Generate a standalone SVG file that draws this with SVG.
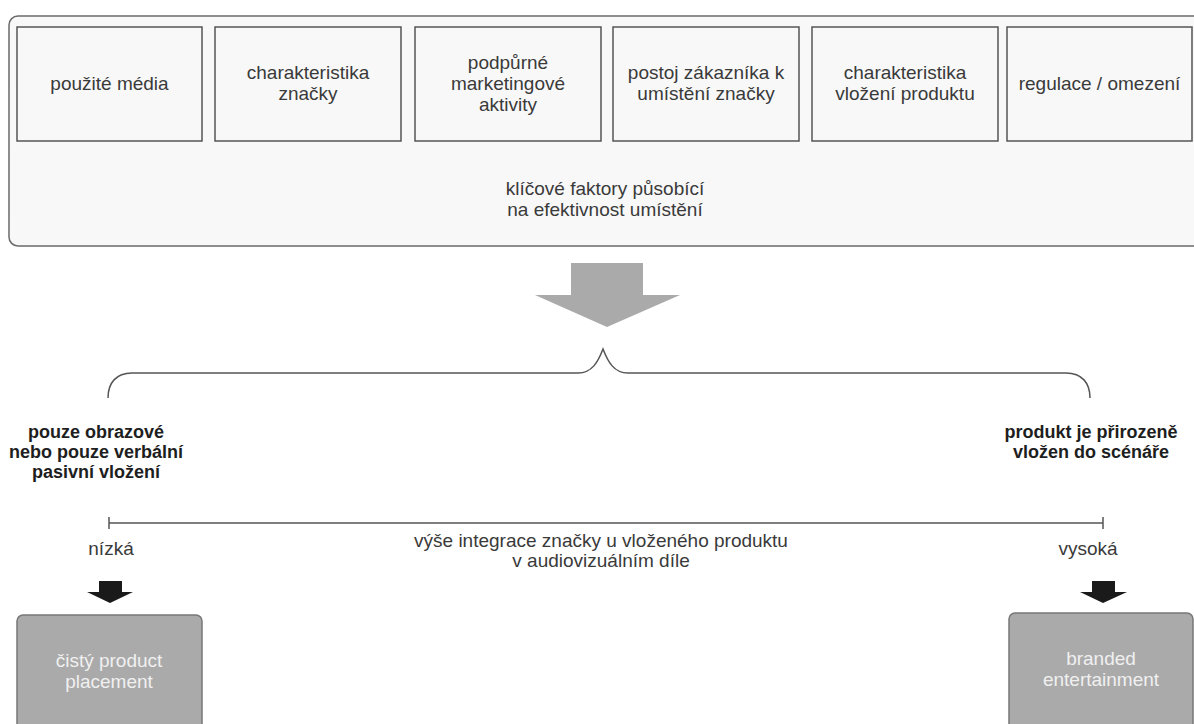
<svg xmlns="http://www.w3.org/2000/svg" width="1194" height="724" viewBox="0 0 1194 724">
  <style>
    .panel { fill: #f8f8f8; stroke: #6a6a6a; stroke-width: 1.5; }
    .factor { fill: #f8f8f8; stroke: #555555; stroke-width: 1.5; }
    .t { font-family: "Liberation Sans", Arial, sans-serif; font-size: 19px; fill: #3a3a3a; text-anchor: middle; }
    .b { font-family: "Liberation Sans", Arial, sans-serif; font-size: 18px; font-weight: bold; fill: #1e1e1e; text-anchor: middle; }
    .outcome { fill: #aaaaaa; stroke: #777777; stroke-width: 1.5; }
    .w { font-family: "Liberation Sans", Arial, sans-serif; font-size: 19px; fill: #f0f0f0; text-anchor: middle; }
    .line { fill: none; stroke: #555555; stroke-width: 1.5; }
  </style>
  <rect width="1194" height="724" fill="#ffffff"/>

  <!-- key factors panel -->
  <g id="factors-panel">
    <rect class="panel" x="9" y="16" width="1200" height="230" rx="9"/>
    <text class="t" x="605" y="195">klíčové faktory působící</text>
    <text class="t" x="605" y="216">na efektivnost umístění</text>
  </g>

  <g id="f-media">
    <rect class="factor" x="17" y="27" width="185" height="114"/>
    <text class="t" x="109.5" y="90">použité média</text>
  </g>
  <g id="f-brand">
    <rect class="factor" x="215" y="27" width="186" height="114"/>
    <text class="t" x="308" y="79">charakteristika</text>
    <text class="t" x="308" y="100">značky</text>
  </g>
  <g id="f-marketing">
    <rect class="factor" x="415" y="27" width="186" height="114"/>
    <text class="t" x="508" y="69">podpůrné</text>
    <text class="t" x="508" y="90">marketingové</text>
    <text class="t" x="508" y="111">aktivity</text>
  </g>
  <g id="f-attitude">
    <rect class="factor" x="613" y="27" width="186" height="114"/>
    <text class="t" x="706" y="79">postoj zákazníka k</text>
    <text class="t" x="706" y="100">umístění značky</text>
  </g>
  <g id="f-placement">
    <rect class="factor" x="812" y="27" width="186" height="114"/>
    <text class="t" x="905" y="79">charakteristika</text>
    <text class="t" x="905" y="100">vložení produktu</text>
  </g>
  <g id="f-regulation">
    <rect class="factor" x="1007" y="27" width="185" height="114"/>
    <text class="t" x="1099.5" y="90">regulace / omezení</text>
  </g>

  <g id="connectors">
    <!-- big downward arrow -->
    <polygon fill="#aaaaaa" points="571,263 643,263 643,295 680,295 607,327 535,295 571,295"/>
    <!-- brace -->
    <path class="line" d="M108,398 C108,383 116,373 132,373 L578,373 C592,373 598,362 603,349 C608,362 614,373 628,373 L1066,373 C1082,373 1090,383 1090,398"/>
    <!-- integration axis -->
    <line class="line" x1="109" y1="523" x2="1103" y2="523"/>
    <line class="line" x1="109" y1="517" x2="109" y2="529"/>
    <line class="line" x1="1103" y1="517" x2="1103" y2="529"/>
    <!-- small black arrows -->
    <polygon fill="#1a1a1a" points="99,581 122,581 122,592 133,592 110,603 87,592 99,592"/>
    <polygon fill="#1a1a1a" points="1092,581 1115,581 1115,592 1127,592 1103,603 1080,592 1092,592"/>
  </g>

  <g id="low-extreme">
    <text class="b" x="96" y="438">pouze obrazové</text>
    <text class="b" x="96" y="458">nebo pouze verbální</text>
    <text class="b" x="96" y="478">pasivní vložení</text>
  </g>
  <g id="high-extreme">
    <text class="b" x="1091" y="438">produkt je přirozeně</text>
    <text class="b" x="1091" y="458">vložen do scénáře</text>
  </g>

  <g id="axis-labels">
    <text class="t" x="111" y="555">nízká</text>
    <text class="t" x="1088" y="555">vysoká</text>
    <text class="t" x="601" y="547">výše integrace značky u vloženého produktu</text>
    <text class="t" x="601" y="567">v audiovizuálním díle</text>
  </g>

  <g id="pure-placement">
    <rect class="outcome" x="17" y="615" width="185" height="130" rx="6"/>
    <text class="w" x="109" y="667">čistý product</text>
    <text class="w" x="109" y="688">placement</text>
  </g>
  <g id="branded-entertainment">
    <rect class="outcome" x="1009" y="613" width="184" height="130" rx="6"/>
    <text class="w" x="1101" y="665">branded</text>
    <text class="w" x="1101" y="686">entertainment</text>
  </g>
</svg>
